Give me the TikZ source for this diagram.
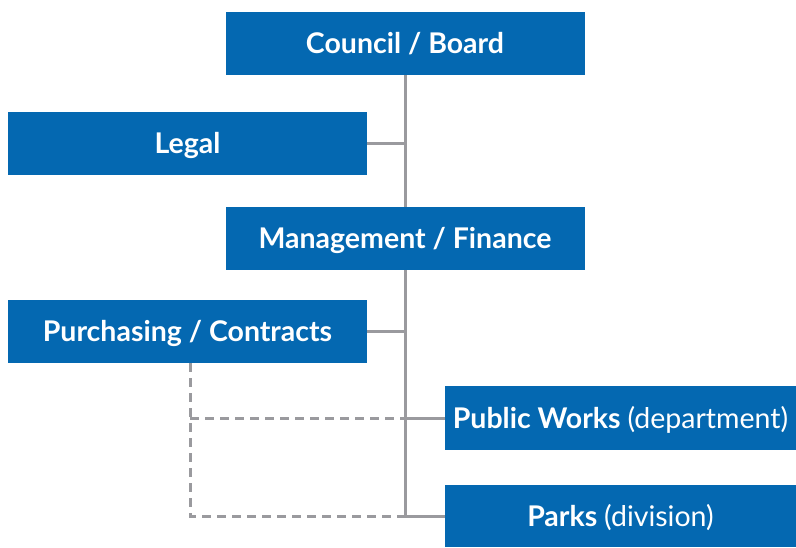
\documentclass[tikz,border=0pt]{standalone}
\usepackage{fontspec}
\setmainfont{Lato}
\usepackage{xcolor}
\usetikzlibrary{positioning}
\definecolor{orgblue}{HTML}{0468B1}
\definecolor{orggrey}{HTML}{9A9A9E}
\tikzset{
	x=1pt, y=-1pt,
	unit/.style={fill=orgblue, text=white, minimum width=359pt, minimum height=63pt, inner sep=0pt, text height=20.5pt, text depth=0pt, font=\fontsize{28.5}{34}\selectfont\bfseries},
	sub/.style={unit, minimum width=351pt},
	link/.style={draw=orggrey, line width=3pt},
	dotlink/.style={link, dash pattern=on 9pt off 6pt}
}
\newcommand{\note}[1]{\mdseries #1}

\begin{document}
\begin{tikzpicture}
	\useasboundingbox (0,0) rectangle (796,547);
	
	\node[unit] (council) at (405,43.5) {Council / Board};
	\node[unit] (legal) at (187.5,143.5) {Legal};
	\node[unit] (mgmt) at (405,238.5) {Management / Finance};
	\node[unit] (purch) at (187.5,331.5) {Purchasing / Contracts};
	\node[sub, minimum height=64pt] (works) at (620.5,418) {Public Works \note{(department)}};
	\node[sub, minimum height=62pt] (parks) at (620.5,516) {Parks \note{(division)}};
	
	\coordinate (drop) at ([xshift=2.5pt]purch.south);
	\draw[dotlink] (drop) -- (drop |- parks.west) -- (parks.west -| mgmt.south);
	\draw[dotlink] (drop |- works.west) -- (works.west -| mgmt.south);
	
	\draw[link]
	(council.south) -- (mgmt.north)
	(mgmt.south) -- (mgmt.south |- parks.west) -- (parks.west)
	(legal.east) -- (legal.east -| council.south)
	(purch.east) -- (purch.east -| mgmt.south)
	(works.west) -- (works.west -| mgmt.south)
	;
\end{tikzpicture}
\end{document}
